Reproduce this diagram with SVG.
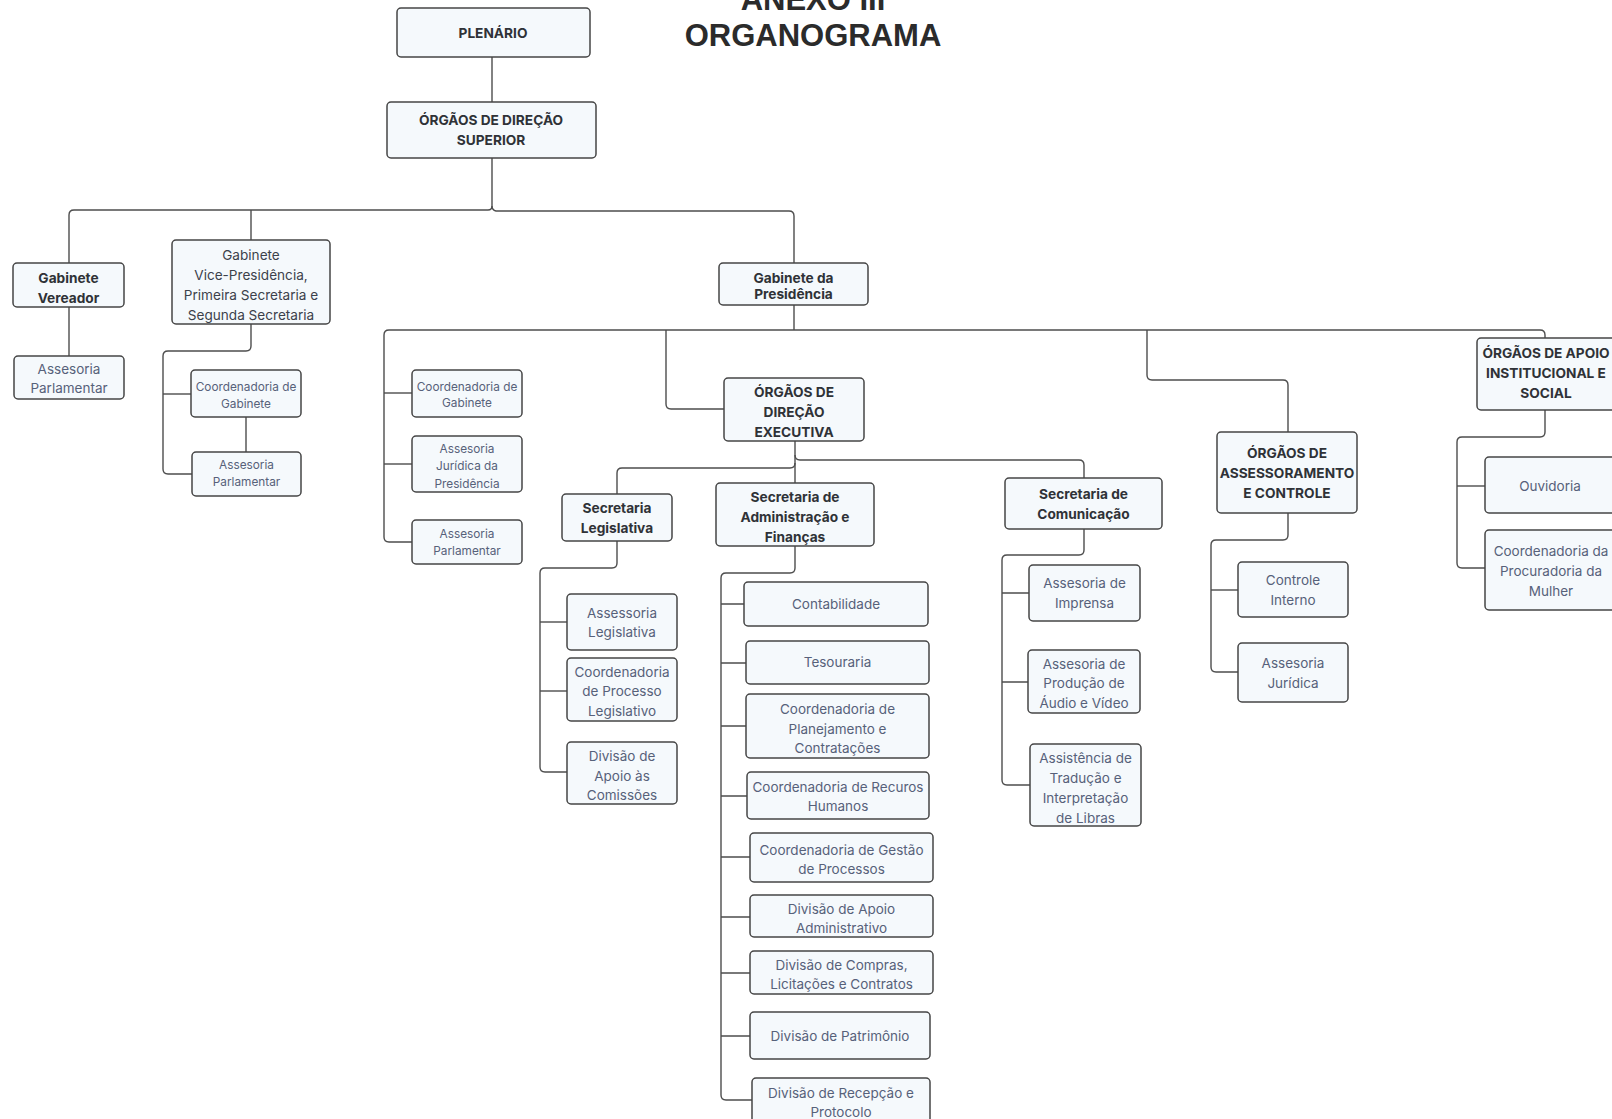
<svg xmlns="http://www.w3.org/2000/svg" width="1612" height="1119" viewBox="0 0 1612 1119">
<style>
.bg{fill:#ffffff}
.box{fill:#f5f9fc;stroke:#454545;stroke-width:1.5}
.c{fill:none;stroke:#4d4d4d;stroke-width:1.4}
text{font-family:Inter,"Noto Sans","Liberation Sans",sans-serif;text-anchor:middle}
.b{font-size:13.7px;font-weight:700;fill:#2f3237}
.r{font-size:13.5px;fill:#57617a}
.d{font-size:13.6px;fill:#3c414b}
.s{font-size:11.8px;fill:#57617a}
.t{font-family:"Liberation Sans",Arial,sans-serif;font-size:31px;font-weight:700;fill:#2b2b2b}
</style>
<rect class="bg" x="0" y="0" width="1612" height="1119"/>
<g id="title">
<text class="t" x="813" y="10">ANEXO III</text>
<text class="t" x="813" y="46">ORGANOGRAMA</text>
</g>
<g id="connectors">
<path class="c" d="M492,57 V102"/>
<path class="c" d="M492,158 V206 Q492,210 488,210 H74 Q69,210 69,215 V263"/>
<path class="c" d="M492,206 Q492,210 496,211 H789 Q794,211 794,216 V263"/>
<path class="c" d="M251,210 V240"/>
<path class="c" d="M69,307 V356"/>
<path class="c" d="M251,324 V346 Q251,351 246,351 H168 Q163,351 163,356 V469 Q163,474 168,474 H192"/>
<path class="c" d="M163,394 H191"/>
<path class="c" d="M246,417 V452"/>
<path class="c" d="M794,305 V330"/>
<path class="c" d="M389,330 H1540 Q1545,330 1545,335 V338"/>
<path class="c" d="M389,330 Q384,330 384,335 V537 Q384,542 389,542 H412"/>
<path class="c" d="M384,393 H412"/>
<path class="c" d="M384,464 H412"/>
<path class="c" d="M666,330 V404 Q666,409 671,409 H724"/>
<path class="c" d="M1147,330 V375 Q1147,380 1152,380 H1283 Q1288,380 1288,385 V432"/>
<path class="c" d="M795,441 V483"/>
<path class="c" d="M795,455 Q795,460 800,460 H1079 Q1084,460 1084,465 V478"/>
<path class="c" d="M795,463 Q795,468 790,468 H622 Q617,468 617,473 V494"/>
<path class="c" d="M617,541 V563 Q617,568 612,568 H545 Q540,568 540,573 V767 Q540,772 545,772 H567"/>
<path class="c" d="M540,622 H567"/>
<path class="c" d="M540,691 H567"/>
<path class="c" d="M795,546 V568 Q795,573 790,573 H726 Q721,573 721,578 V1095 Q721,1100 726,1100 H752"/>
<path class="c" d="M721,604 H744 M721,663 H746 M721,726 H746 M721,796 H747 M721,857 H750 M721,917 H750 M721,973 H750 M721,1036 H750"/>
<path class="c" d="M1084,529 V550 Q1084,555 1079,555 H1007 Q1002,555 1002,560 V780 Q1002,785 1007,785 H1030"/>
<path class="c" d="M1002,593 H1029 M1002,682 H1028"/>
<path class="c" d="M1288,513 V535 Q1288,540 1283,540 H1216 Q1211,540 1211,545 V667 Q1211,672 1216,672 H1238"/>
<path class="c" d="M1211,590 H1238"/>
<path class="c" d="M1545,410 V432 Q1545,437 1540,437 H1462 Q1457,437 1457,442 V563 Q1457,568 1462,568 H1485"/>
<path class="c" d="M1457,486 H1485"/>
</g>
<g id="plenario"><rect class="box" x="397" y="8" width="193" height="49" rx="4"/><text class="b" x="493" y="37.5">PLENÁRIO</text></g>
<g id="superior"><rect class="box" x="387" y="102" width="209" height="56" rx="4"/><text class="b" x="491" y="125">ÓRGÃOS DE DIREÇÃO</text><text class="b" x="491" y="145">SUPERIOR</text></g>
<g id="vereador"><rect class="box" x="13" y="263" width="111" height="44" rx="4"/><text class="b" x="68.5" y="283">Gabinete</text><text class="b" x="68.5" y="303">Vereador</text></g>
<g id="vp"><rect class="box" x="172" y="240" width="158" height="84" rx="4"/><text class="d" x="251" y="259.5">Gabinete</text><text class="d" x="251" y="279.5">Vice-Presidência,</text><text class="d" x="251" y="299.5">Primeira Secretaria e</text><text class="d" x="251" y="319.5">Segunda Secretaria</text></g>
<g id="ap-vereador"><rect class="box" x="14" y="356" width="110" height="43" rx="4"/><text class="r" x="69" y="373.5">Assesoria</text><text class="r" x="69" y="393">Parlamentar</text></g>
<g id="cg-vp"><rect class="box" x="191" y="370" width="110" height="47" rx="4"/><text class="s" x="246" y="391">Coordenadoria de</text><text class="s" x="246" y="407.5">Gabinete</text></g>
<g id="ap-vp"><rect class="box" x="192" y="452" width="109" height="44" rx="4"/><text class="s" x="246.5" y="469">Assesoria</text><text class="s" x="246.5" y="486">Parlamentar</text></g>
<g id="presidencia"><rect class="box" x="719" y="263" width="149" height="42" rx="4"/><text class="b" x="793.5" y="282.5">Gabinete da</text><text class="b" x="793.5" y="299">Presidência</text></g>
<g id="cg-pres"><rect class="box" x="412" y="370" width="110" height="47" rx="4"/><text class="s" x="467" y="390.5">Coordenadoria de</text><text class="s" x="467" y="407">Gabinete</text></g>
<g id="aj-pres"><rect class="box" x="412" y="436" width="110" height="56" rx="4"/><text class="s" x="467" y="452.5">Assesoria</text><text class="s" x="467" y="470">Jurídica da</text><text class="s" x="467" y="487.5">Presidência</text></g>
<g id="ap-pres"><rect class="box" x="412" y="520" width="110" height="44" rx="4"/><text class="s" x="467" y="537.5">Assesoria</text><text class="s" x="467" y="554.5">Parlamentar</text></g>
<g id="direcao-executiva"><rect class="box" x="724" y="378" width="140" height="63" rx="4"/><text class="b" x="794" y="397">ÓRGÃOS DE</text><text class="b" x="794" y="417">DIREÇÃO</text><text class="b" x="794" y="437">EXECUTIVA</text></g>
<g id="sec-legislativa"><rect class="box" x="562" y="494" width="110" height="47" rx="4"/><text class="b" x="617" y="513">Secretaria</text><text class="b" x="617" y="533">Legislativa</text></g>
<g id="sec-admin"><rect class="box" x="716" y="483" width="158" height="63" rx="4"/><text class="b" x="795" y="502">Secretaria de</text><text class="b" x="795" y="522">Administração e</text><text class="b" x="795" y="542">Finanças</text></g>
<g id="sec-comunicacao"><rect class="box" x="1005" y="478" width="157" height="51" rx="4"/><text class="b" x="1083.5" y="499">Secretaria de</text><text class="b" x="1083.5" y="519">Comunicação</text></g>
<g id="assessoramento"><rect class="box" x="1217" y="432" width="140" height="81" rx="4"/><text class="b" x="1287" y="458">ÓRGÃOS DE</text><text class="b" x="1287" y="478">ASSESSORAMENTO</text><text class="b" x="1287" y="498">E CONTROLE</text></g>
<g id="apoio"><rect class="box" x="1477" y="338" width="138" height="72" rx="4"/><text class="b" x="1546" y="358">ÓRGÃOS DE APOIO</text><text class="b" x="1546" y="378">INSTITUCIONAL E</text><text class="b" x="1546" y="398">SOCIAL</text></g>
<g id="assessoria-legislativa"><rect class="box" x="567" y="594" width="110" height="56" rx="4"/><text class="r" x="622" y="618">Assessoria</text><text class="r" x="622" y="637">Legislativa</text></g>
<g id="coord-processo"><rect class="box" x="567" y="658" width="110" height="63" rx="4"/><text class="r" x="622" y="677">Coordenadoria</text><text class="r" x="622" y="696">de Processo</text><text class="r" x="622" y="716">Legislativo</text></g>
<g id="div-comissoes"><rect class="box" x="567" y="742" width="110" height="62" rx="4"/><text class="r" x="622" y="761">Divisão de</text><text class="r" x="622" y="781">Apoio às</text><text class="r" x="622" y="800">Comissões</text></g>
<g id="contabilidade"><rect class="box" x="744" y="582" width="184" height="44" rx="4"/><text class="r" x="836" y="609">Contabilidade</text></g>
<g id="tesouraria"><rect class="box" x="746" y="641" width="183" height="43" rx="4"/><text class="r" x="837.5" y="667">Tesouraria</text></g>
<g id="coord-planejamento"><rect class="box" x="746" y="694" width="183" height="64" rx="4"/><text class="r" x="837.5" y="714">Coordenadoria de</text><text class="r" x="837.5" y="734">Planejamento e</text><text class="r" x="837.5" y="753">Contratações</text></g>
<g id="coord-rh"><rect class="box" x="747" y="772" width="182" height="47" rx="4"/><text class="r" x="838" y="792">Coordenadoria de Recuros</text><text class="r" x="838" y="811">Humanos</text></g>
<g id="coord-gestao"><rect class="box" x="750" y="833" width="183" height="49" rx="4"/><text class="r" x="841.5" y="855">Coordenadoria de Gestão</text><text class="r" x="841.5" y="874">de Processos</text></g>
<g id="div-apoio-adm"><rect class="box" x="750" y="895" width="183" height="42" rx="4"/><text class="r" x="841.5" y="914">Divisão de Apoio</text><text class="r" x="841.5" y="933">Administrativo</text></g>
<g id="div-compras"><rect class="box" x="750" y="951" width="183" height="43" rx="4"/><text class="r" x="841.5" y="970">Divisão de Compras,</text><text class="r" x="841.5" y="989">Licitações e Contratos</text></g>
<g id="div-patrimonio"><rect class="box" x="750" y="1012" width="180" height="47" rx="4"/><text class="r" x="840" y="1041">Divisão de Patrimônio</text></g>
<g id="div-recepcao"><rect class="box" x="752" y="1078" width="178" height="52" rx="4"/><text class="r" x="841" y="1098">Divisão de Recepção e</text><text class="r" x="841" y="1117">Protocolo</text></g>
<g id="imprensa"><rect class="box" x="1029" y="565" width="111" height="56" rx="4"/><text class="r" x="1084.5" y="588">Assesoria de</text><text class="r" x="1084.5" y="608">Imprensa</text></g>
<g id="audio-video"><rect class="box" x="1028" y="650" width="112" height="63" rx="4"/><text class="r" x="1084" y="669">Assesoria de</text><text class="r" x="1084" y="688">Produção de</text><text class="r" x="1084" y="708">Áudio e Vídeo</text></g>
<g id="libras"><rect class="box" x="1030" y="744" width="111" height="82" rx="4"/><text class="r" x="1085.5" y="763">Assistência de</text><text class="r" x="1085.5" y="783">Tradução e</text><text class="r" x="1085.5" y="803">Interpretação</text><text class="r" x="1085.5" y="823">de Libras</text></g>
<g id="controle-interno"><rect class="box" x="1238" y="562" width="110" height="55" rx="4"/><text class="r" x="1293" y="585">Controle</text><text class="r" x="1293" y="605">Interno</text></g>
<g id="assesoria-juridica"><rect class="box" x="1238" y="643" width="110" height="59" rx="4"/><text class="r" x="1293" y="668">Assesoria</text><text class="r" x="1293" y="688">Jurídica</text></g>
<g id="ouvidoria"><rect class="box" x="1485" y="457" width="130" height="56" rx="4"/><text class="r" x="1550" y="491">Ouvidoria</text></g>
<g id="procuradoria"><rect class="box" x="1485" y="530" width="130" height="80" rx="4"/><text class="r" x="1551" y="556">Coordenadoria da</text><text class="r" x="1551" y="576">Procuradoria da</text><text class="r" x="1551" y="596">Mulher</text></g>
</svg>
